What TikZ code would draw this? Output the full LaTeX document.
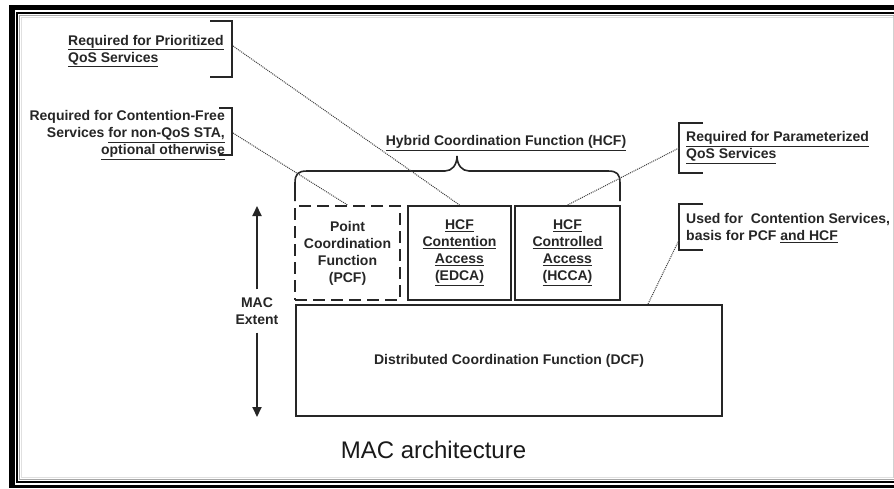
\documentclass[tikz,border=0pt]{standalone}
\usepackage{fontspec}
\setmainfont{Liberation Sans}
\usetikzlibrary{arrows.meta}
\begin{document}
\begin{tikzpicture}[x=1pt,y=-1pt,
  txt/.style={font=\fontsize{14}{17}\selectfont\bfseries, inner sep=0pt, text=black!85},
  fnbox/.style={txt, draw=black!85, line width=2pt, minimum height=94pt, align=center},
  bracket/.style={draw=black!85, line width=2pt},
  leader/.style={draw=black!75, line width=1pt, densely dotted},
  extent/.style={draw=black!85, line width=2pt, -{Triangle[length=10pt,width=9pt]}}
]
\useasboundingbox (0,0) rectangle (894,488);
\fill[white] (0,0) rectangle (894,488);

% window-style frame
\fill[black] (9,5) rectangle (894,10);
\fill[black] (9,5) rectangle (15,488);
\fill[black] (9,485) rectangle (894,488);
\draw[black, line width=1.5pt] (894,13) -- (17,13) -- (17,482) -- (894,482);
\draw[black!35, line width=1.5pt] (894,15.5) -- (19.5,15.5) -- (19.5,479.5) -- (894,479.5);
\draw[black!12, line width=1.5pt] (894,17.5) -- (21.5,17.5) -- (21.5,477.5) -- (894,477.5);
\draw[black!18, line width=1pt] (893,16) -- (893,478);

% function blocks
\node[fnbox, minimum width=105pt, dash pattern=on 12pt off 6pt] (pcf) at (347.5,253)
  {Point\\Coordination\\Function\\(PCF)};
\node[fnbox, minimum width=103pt] (edca) at (459.5,253)
  {\underline{HCF}\\\underline{Contention}\\\underline{Access}\\\underline{(EDCA)}};
\node[fnbox, minimum width=105pt] (hcca) at (567.5,253)
  {\underline{HCF}\\\underline{Controlled}\\\underline{Access}\\\underline{(HCCA)}};
\node[fnbox, minimum width=426pt, minimum height=111pt] (dcf) at (509,360.5)
  {Distributed Coordination Function (DCF)};

% hybrid coordination function brace
\node[txt] (hcf) at (506,143) {\underline{Hybrid Coordination Function (HCF)}};
\draw[bracket, line width=1.6pt] (295,201) -- (295,183)
  .. controls (295,174) and (298,171) .. (307,171) -- (445,171)
  .. controls (452,171) and (457,165) .. (457,156)
  .. controls (457,165) and (462,171) .. (469,171) -- (608,171)
  .. controls (617,171) and (620,174) .. (620,183) -- (620,201);

% MAC extent
\node[txt, align=center, inner ysep=8pt] (ext) at (257,311) {MAC\\Extent};
\coordinate (exttop) at (257,206);
\coordinate (extbot) at (257,417);
\draw[extent] (ext.north) -- (exttop);
\draw[extent] (ext.south) -- (extbot);

% annotations
\node[txt, align=left, anchor=west] (prio) at (68,51)
  {\underline{Required for Prioritized}\\\underline{QoS Services}};
\draw[bracket] (210,21) -- (232,21) -- (232,77) -- (210,77);
\coordinate (b1) at (233,46);

\node[txt, align=right, anchor=east] (cfree) at (225,135)
  {Required for Contention-Free\\Services \underline{for non-QoS STA,}\\\underline{optional otherwise}};
\draw[bracket] (219,108) -- (232,108) -- (232,155) -- (219,155);
\coordinate (b2) at (233,133);

\node[txt, align=left, anchor=west] (param) at (686,147.5)
  {\underline{Required for Parameterized}\\\underline{QoS Services}};
\draw[bracket] (703,123) -- (679,123) -- (679,173) -- (703,173);
\coordinate (b3) at (679,148);

\node[txt, align=left, anchor=west] (used) at (686,228)
  {Used for\ \ Contention Services,\\basis for PCF \underline{and HCF}};
\draw[bracket] (703,204) -- (679,204) -- (679,250) -- (703,250);
\coordinate (b4) at (679,240);

% leaders
\draw[leader] (b1) -- (edca.north);
\draw[leader] (b2) -- (pcf.north);
\draw[leader] (b3) -- (hcca.north);
\draw[leader] (b4) -- ([xshift=-75pt]dcf.north east);

% caption
\node[font=\fontsize{24}{28}\selectfont, text=black!90, inner sep=0pt] (cap) at (433.5,450) {MAC architecture};
\end{tikzpicture}
\end{document}
